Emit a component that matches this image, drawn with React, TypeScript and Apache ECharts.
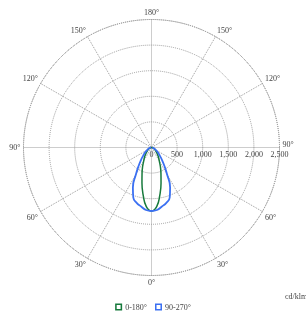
import React, { useEffect, useRef } from "react";
import * as echarts from "echarts";

const gammaAngles = [0, 5, 10, 15, 20, 25, 30, 35, 40, 45, 50, 55, 60, 65, 70, 75, 80, 85, 90];
const plane0_180 = [1240, 1160, 940, 720, 540, 410, 306, 240, 188, 148, 114, 90, 70, 55, 40, 30, 20, 10, 0];
const plane90_270 = [1240, 1225, 1170, 1120, 1040, 860, 610, 440, 320, 236, 180, 135, 100, 75, 55, 38, 25, 15, 8];
const seriesNames = ["0-180°", "90-270°"];
const seriesColors = ["#177a3c", "#3b70f2"];
const radiusTicks = [0, 500, 1000, 1500, 2000, 2500];
const unitLabel = "cd/klm";

function toPolar(values: number[]) {
  const out: [number, number][] = [];
  for (let i = gammaAngles.length - 1; i >= 0; i--) out.push([values[i], 90 + gammaAngles[i]]);
  for (let i = 1; i < gammaAngles.length; i++) out.push([values[i], 90 - gammaAngles[i]]);
  return out;
}

const hollowSquare = "path://M0,0H10V10H0Z M2.2,2.2V7.8H7.8V2.2Z";

export default function App() {
  const ref = useRef<HTMLDivElement>(null);
  useEffect(() => {
    if (!ref.current) return;
    const chart = echarts.init(ref.current, null, { renderer: "svg" });
    const font = "Liberation Serif";
    const grid = { color: "#9a9a9a", type: "dotted" as const, width: 1 };
    chart.setOption({
      animation: false,
      textStyle: { fontFamily: font },
      polar: { center: [151.5, 147.5], radius: 128 },
      angleAxis: {
        type: "value",
        min: 0,
        max: 360,
        interval: 30,
        startAngle: 0,
        clockwise: true,
        axisLine: { show: true, lineStyle: grid },
        axisTick: { show: false },
        splitLine: { show: true, lineStyle: grid },
        axisLabel: {
          color: "#444",
          fontSize: 8,
          fontFamily: font,
          margin: 3,
          formatter: (v: number) => {
            const a = v <= 90 ? 90 - v : v <= 270 ? v - 90 : 450 - v;
            return v === 0 ? "{up|" + a + "°}" : a + "°";
          },
          rich: {
            up: { fontSize: 8, color: "#444", fontFamily: font, padding: [0, 0, 7, 0] },
          },
        },
      },
      radiusAxis: {
        type: "value",
        min: radiusTicks[0],
        max: radiusTicks[radiusTicks.length - 1],
        interval: 500,
        axisLine: { show: false },
        axisTick: { show: false },
        splitLine: { show: true, lineStyle: grid },
        axisLabel: {
          color: "#444",
          fontSize: 8,
          fontFamily: font,
          margin: -2.5,
          verticalAlign: "top",
          align: "center",
        },
      },
      legend: {
        bottom: 3,
        left: "center",
        itemWidth: 7,
        itemHeight: 7,
        itemGap: 8,
        textStyle: { fontSize: 8, color: "#444", fontFamily: font, padding: [0, 0, 0, -2] },
        data: seriesNames.map((n) => ({ name: n, icon: hollowSquare })),
      },
      graphic: [
        {
          type: "text",
          left: 285,
          top: 292,
          style: { text: unitLabel, fontSize: 8, fill: "#444", fontFamily: font },
        },
      ],
      series: [
        {
          name: seriesNames[0],
          type: "line",
          coordinateSystem: "polar",
          data: toPolar(plane0_180),
          smooth: true,
          showSymbol: false,
          symbol: "none",
          lineStyle: { color: seriesColors[0], width: 1.5 },
          itemStyle: { color: seriesColors[0] },
        },
        {
          name: seriesNames[1],
          type: "line",
          coordinateSystem: "polar",
          data: toPolar(plane90_270),
          smooth: true,
          showSymbol: false,
          symbol: "none",
          lineStyle: { color: seriesColors[1], width: 1.8 },
          itemStyle: { color: seriesColors[1] },
        },
      ],
    });
    return () => chart.dispose();
  }, []);
  return (
    <div
      ref={ref}
      style={{ position: "fixed", left: 0, top: 0, width: 306, height: 319 }}
    />
  );
}
